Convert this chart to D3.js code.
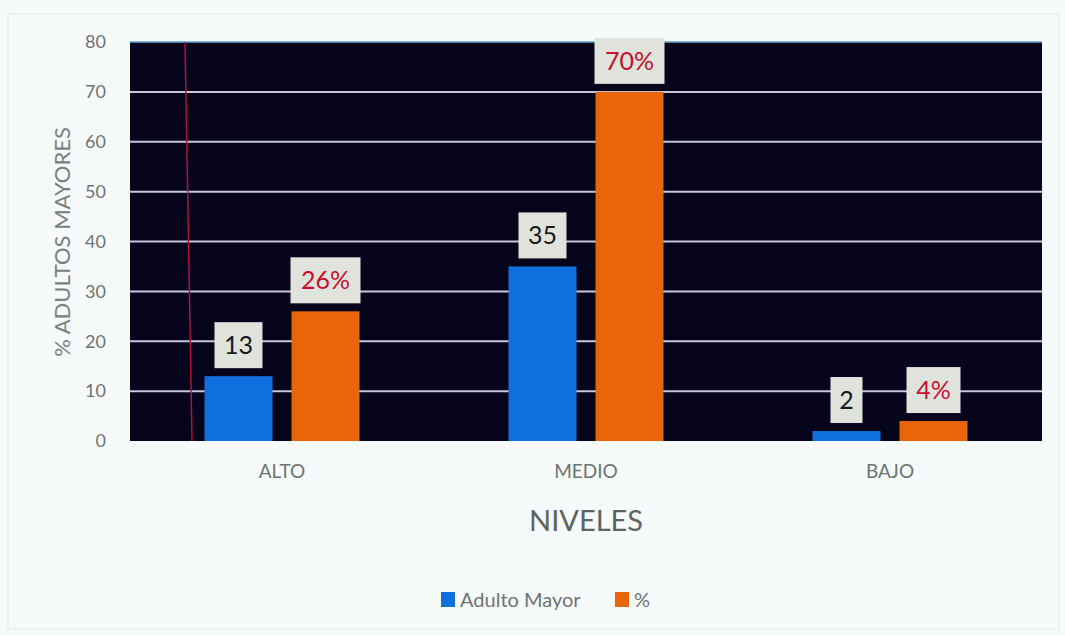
<!DOCTYPE html>
<html><head><meta charset="utf-8">
<script src="https://cdn.jsdelivr.net/npm/d3@7"></script>
<style>body{margin:0;background:#f6fafa;} svg{display:block}</style>
</head><body>
<svg id="c" width="1065" height="635"></svg>
<script>
const categories = ["ALTO", "MEDIO", "BAJO"];
const seriesNames = ["Adulto Mayor", "%"];
const adultoMayor = [13, 35, 2];
const porcentaje = [26, 70, 4];
const porcentajeLabels = ["26%", "70%", "4%"];
const yTicks = [0, 10, 20, 30, 40, 50, 60, 70, 80];

const svg = d3.select("#c");
const W = 1065, H = 635;
const m = {left: 130, right: 1042, top: 42, bottom: 441};
const font = "Lato, 'Open Sans', sans-serif";

svg.append("rect").attr("x", 0).attr("y", 0).attr("width", W).attr("height", H).attr("fill", "#f6fafa");
svg.append("rect").attr("x", 8).attr("y", 14).attr("width", W - 14).attr("height", H - 20)
  .attr("fill", "none").attr("stroke", "#e4e8e8").attr("stroke-width", 1);

const x = d3.scaleBand().domain(categories).range([m.left, m.right]);
const y = d3.scaleLinear().domain([0, 80]).range([m.bottom, m.top]);

// plot background
svg.append("rect").attr("x", m.left).attr("y", m.top).attr("width", m.right - m.left).attr("height", m.bottom - m.top)
  .attr("fill", "#06051c");
svg.append("line").attr("x1", m.left).attr("x2", m.right).attr("y1", m.top).attr("y2", m.top)
  .attr("stroke", "#5aa8d8").attr("stroke-width", 1.5);

// gridlines
svg.append("g").selectAll("line").data(yTicks.filter(d => d > 0 && d < 80)).join("line")
  .attr("x1", m.left).attr("x2", m.right).attr("y1", d => y(d)).attr("y2", d => y(d))
  .attr("stroke", "#c9c6e0").attr("stroke-width", 2);

// red vertical line
svg.append("line").attr("x1", 185).attr("x2", 192).attr("y1", m.top).attr("y2", m.bottom)
  .attr("stroke", "#b0133e").attr("stroke-width", 1.5);

// y axis
const yAxis = d3.axisLeft(y).tickValues(yTicks).tickSize(0).tickPadding(24);
const ya = svg.append("g").attr("transform", `translate(${m.left},0)`).call(yAxis);
ya.select(".domain").remove();
ya.selectAll("text").attr("font-family", font).attr("font-size", 18).attr("fill", "#6e7474");

// x axis
const xAxis = d3.axisBottom(x).tickSize(0).tickPadding(24);
const xa = svg.append("g").attr("transform", `translate(0,${m.bottom})`).call(xAxis);
xa.select(".domain").remove();
xa.selectAll("text").attr("font-family", font).attr("font-size", 19).attr("fill", "#6e7474");

// bars
const barW = 68, gap = 19;
const colors = ["#0f6fdc", "#e8650a"];
const series = [adultoMayor, porcentaje];
series.forEach((vals, si) => {
  const off = si === 0 ? -gap / 2 - barW : gap / 2;
  svg.append("g").selectAll("rect").data(categories).join("rect")
    .attr("x", d => x(d) + x.bandwidth() / 2 + off)
    .attr("y", (d, i) => y(vals[i]))
    .attr("width", barW)
    .attr("height", (d, i) => y(0) - y(vals[i]))
    .attr("fill", colors[si]);
});

// data labels
const labelSets = [adultoMayor.map(String), porcentajeLabels];
const labelColors = ["#1a1a1a", "#c8102e"];
labelSets.forEach((labs, si) => {
  const off = si === 0 ? -gap / 2 - barW / 2 : gap / 2 + barW / 2;
  const vals = series[si];
  categories.forEach((c, i) => {
    const cx = x(c) + x.bandwidth() / 2 + off;
    const bottom = y(vals[i]) - 8;
    const bh = 46;
    const bw = labs[i].length === 1 ? 32 : (labs[i].length === 2 ? 48 : (labs[i].length === 3 ? 70 : 56));
    const bwFinal = labs[i] === "4%" ? 54 : bw;
    svg.append("rect").attr("x", cx - bwFinal / 2).attr("y", bottom - bh).attr("width", bwFinal).attr("height", bh)
      .attr("fill", "#dfe3dc");
    svg.append("text").attr("x", cx).attr("y", bottom - bh / 2 + 9).attr("text-anchor", "middle")
      .attr("font-family", font).attr("font-size", 25).attr("fill", labelColors[si]).text(labs[i]);
  });
});

// axis titles
svg.append("text").attr("transform", "translate(70,242) rotate(-90)").attr("text-anchor", "middle")
  .attr("font-family", font).attr("font-size", 22).attr("fill", "#7a8080").text("% ADULTOS MAYORES");
svg.append("text").attr("x", 586).attr("y", 531).attr("text-anchor", "middle")
  .attr("font-family", font).attr("font-size", 29).attr("fill", "#5e6464").text("NIVELES");

// legend
const lg = svg.append("g");
const legendX = [441, 615];
seriesNames.forEach((n, i) => {
  lg.append("rect").attr("x", legendX[i]).attr("y", 592).attr("width", 14).attr("height", 15).attr("fill", colors[i]);
  lg.append("text").attr("x", legendX[i] + 19).attr("y", 607).attr("font-family", font).attr("font-size", 20)
    .attr("fill", "#6e7474").text(n);
});
</script>
</body></html>
